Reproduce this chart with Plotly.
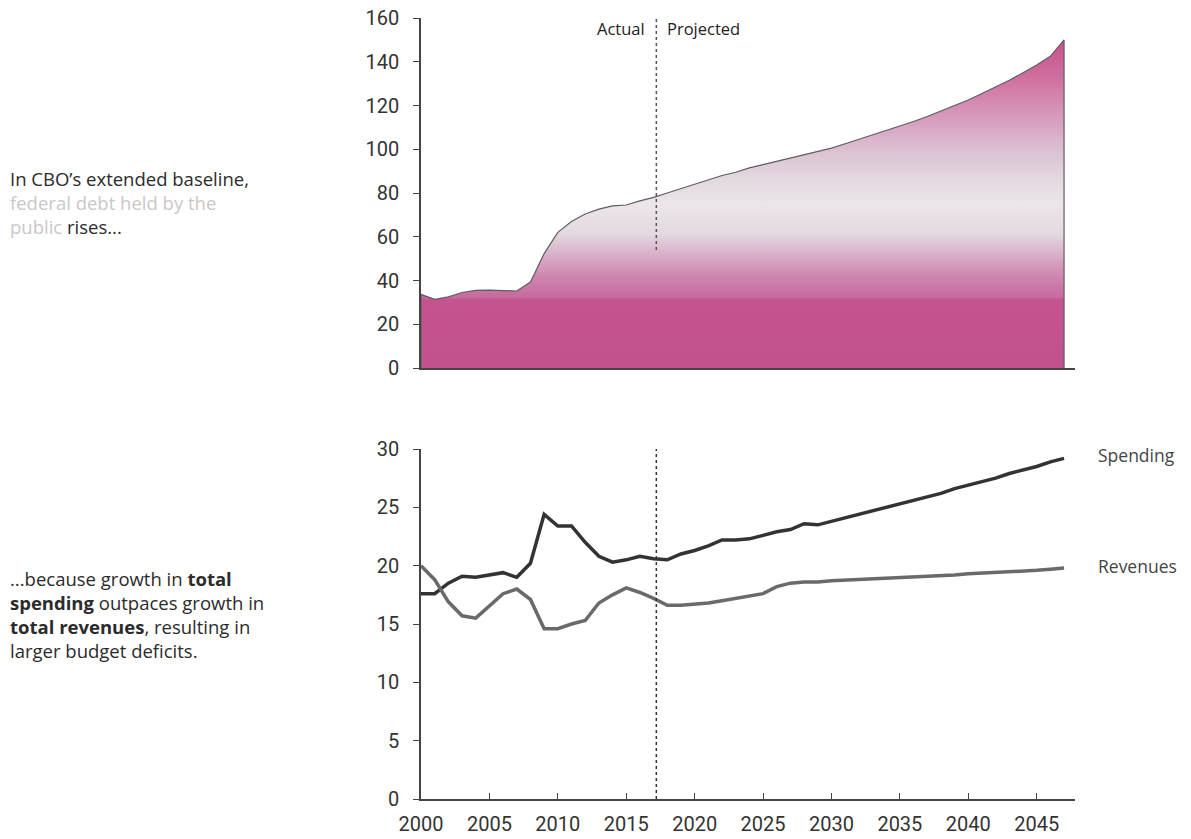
import plotly.graph_objects as go

# Federal debt held by the public, percent of GDP
debt_years = list(range(2000, 2048))
debt = [33.6, 31.4, 32.5, 34.5, 35.5, 35.6, 35.3, 35.2, 39.3, 52.3,
        62.0, 67.0, 70.4, 72.6, 74.1, 74.5, 76.4, 78.0, 80.0, 82.0,
        84.0, 86.0, 88.0, 89.5, 91.5, 93.0, 94.5, 96.0, 97.5, 99.0,
        100.5, 102.5, 104.5, 106.5, 108.5, 110.5, 112.7, 115.0, 117.5, 120.0,
        122.5, 125.5, 128.5, 131.5, 135.0, 138.5, 142.5, 150.0]

# Total spending and total revenues, percent of GDP
line_years = list(range(2000, 2048))
spending = [17.6, 17.6, 18.5, 19.1, 19.0, 19.2, 19.4, 19.0, 20.2, 24.4,
            23.4, 23.4, 22.0, 20.8, 20.3, 20.5, 20.8, 20.6, 20.5, 21.0,
            21.3, 21.7, 22.2, 22.2, 22.3, 22.6, 22.9, 23.1, 23.6, 23.5,
            23.8, 24.1, 24.4, 24.7, 25.0, 25.3, 25.6, 25.9, 26.2, 26.6,
            26.9, 27.2, 27.5, 27.9, 28.2, 28.5, 28.9, 29.2]
revenues = [20.0, 18.8, 16.9, 15.7, 15.5, 16.6, 17.6, 18.0, 17.1, 14.6,
            14.6, 15.0, 15.3, 16.8, 17.5, 18.1, 17.7, 17.2, 16.6, 16.6,
            16.7, 16.8, 17.0, 17.2, 17.4, 17.6, 18.2, 18.5, 18.6, 18.6,
            18.7, 18.75, 18.8, 18.85, 18.9, 18.95, 19.0, 19.1, 19.15, 19.2,
            19.3, 19.35, 19.4, 19.5, 19.55, 19.6, 19.7, 19.8]

x_ticks = list(range(2000, 2050, 5))
debt_ticks = list(range(0, 161, 20))
budget_ticks = list(range(0, 31, 5))
projection_start = 2017.2

FONT = "Roboto"
TEXT_FONT = "Open Sans"
AXIS = "#444444"

fig = go.Figure()

# debt area drawn as a closed polygon so its outline runs down both sides
poly_x = [debt_years[0]] + debt_years + [debt_years[-1]]
poly_y = [0] + debt + [0]
fig.add_trace(go.Scatter(
    x=poly_x, y=poly_y, xaxis="x", yaxis="y",
    mode="lines", fill="toself",
    line=dict(color="#5e5e5e", width=1.2),
    fillgradient=dict(
        type="vertical", start=0, stop=150,
        colorscale=[
            [0.0, "#c2528e"], [0.209, "#c4538f"], [0.215, "#c66a9e"],
            [0.28, "#cf86b0"], [0.35, "#d9b3ca"], [0.41, "#e3d9e0"],
            [0.5, "#ebe6ea"], [0.58, "#e2d7df"], [0.66, "#dcc2d2"],
            [0.76, "#d79cbe"], [0.88, "#d0719f"], [1.0, "#c94f8f"],
        ],
    ),
    hoverinfo="skip", showlegend=False,
))

fig.add_trace(go.Scatter(
    x=line_years, y=spending, xaxis="x2", yaxis="y2", mode="lines",
    line=dict(color="#333333", width=3.5), showlegend=False,
))
fig.add_trace(go.Scatter(
    x=line_years, y=revenues, xaxis="x2", yaxis="y2", mode="lines",
    line=dict(color="#6a6a6a", width=3.5), showlegend=False,
))

# dotted divider between actual and projected values
fig.add_shape(type="line", xref="x", yref="y", x0=projection_start, x1=projection_start,
              y0=54, y1=160, line=dict(color="#555555", width=1.5, dash="dot"))
fig.add_shape(type="line", xref="x2", yref="y2", x0=projection_start, x1=projection_start,
              y0=0, y1=30, line=dict(color="#333333", width=1.5, dash="dot"))

tick_font = dict(family=FONT, size=20, color="#333333")
x_range = [2000, 2047.8]
common_x = dict(range=x_range, showgrid=False, zeroline=False, showline=True,
                linecolor=AXIS, linewidth=1.5, tickvals=x_ticks, automargin=False,
                domain=[421 / 1191, 1075 / 1191])
common_y = dict(showgrid=False, zeroline=False, showline=True, linecolor=AXIS,
                linewidth=1.5, ticks="outside", ticklen=6, tickcolor=AXIS,
                ticklabelstandoff=10, automargin=False, tickfont=tick_font)

fig.update_layout(
    width=1191, height=839,
    margin=dict(l=0, r=0, t=0, b=0, autoexpand=False),
    paper_bgcolor="white", plot_bgcolor="white",
    xaxis=dict(**common_x, anchor="y", showticklabels=False, ticks=""),
    yaxis=dict(**common_y, anchor="x", range=[0, 160], tickvals=debt_ticks,
               domain=[1 - 368 / 839, 1 - 18 / 839]),
    xaxis2=dict(**common_x, anchor="y2", ticks="inside", ticklen=6, tickcolor=AXIS,
                ticklabelstandoff=6, tickfont=tick_font),
    yaxis2=dict(**common_y, anchor="x2", range=[0, 30], tickvals=budget_ticks,
                domain=[1 - 799 / 839, 1 - 449 / 839]),
)

text_font = dict(family=TEXT_FONT, size=18.5, color="#2b2b2b")
faded = "color:#cbc6c9"

fig.add_annotation(
    xref="paper", yref="paper", x=8 / 1191, y=1 - 164 / 839,
    xanchor="left", yanchor="top", align="left", showarrow=False,
    font=text_font,
    text=("In CBO’s extended baseline,<br>"
          f"<span style='{faded}'>federal debt held by the</span><br>"
          f"<span style='{faded}'>public</span> rises..."),
)
fig.add_annotation(
    xref="paper", yref="paper", x=8 / 1191, y=1 - 564 / 839,
    xanchor="left", yanchor="top", align="left", showarrow=False,
    font=text_font,
    text=("...because growth in <b>total</b><br>"
          "<b>spending</b> outpaces growth in<br>"
          "<b>total revenues</b>, resulting in<br>"
          "larger budget deficits."),
)

label_font = dict(family=TEXT_FONT, size=16.5, color="#222222")
fig.add_annotation(xref="x", yref="y", x=projection_start, y=155, text="Actual",
                   xanchor="right", xshift=-9, showarrow=False, font=label_font)
fig.add_annotation(xref="x", yref="y", x=projection_start, y=155, text="Projected",
                   xanchor="left", xshift=9, showarrow=False, font=label_font)

series_font = dict(family=TEXT_FONT, size=17.5, color="#444444")
fig.add_annotation(xref="x2", yref="y2", x=line_years[-1], y=spending[-1] + 0.3,
                   text="Spending", xanchor="left", xshift=32, showarrow=False,
                   font=series_font)
fig.add_annotation(xref="x2", yref="y2", x=line_years[-1], y=revenues[-1] + 0.2,
                   text="Revenues", xanchor="left", xshift=32, showarrow=False,
                   font=series_font)

fig.write_html("out.html")
